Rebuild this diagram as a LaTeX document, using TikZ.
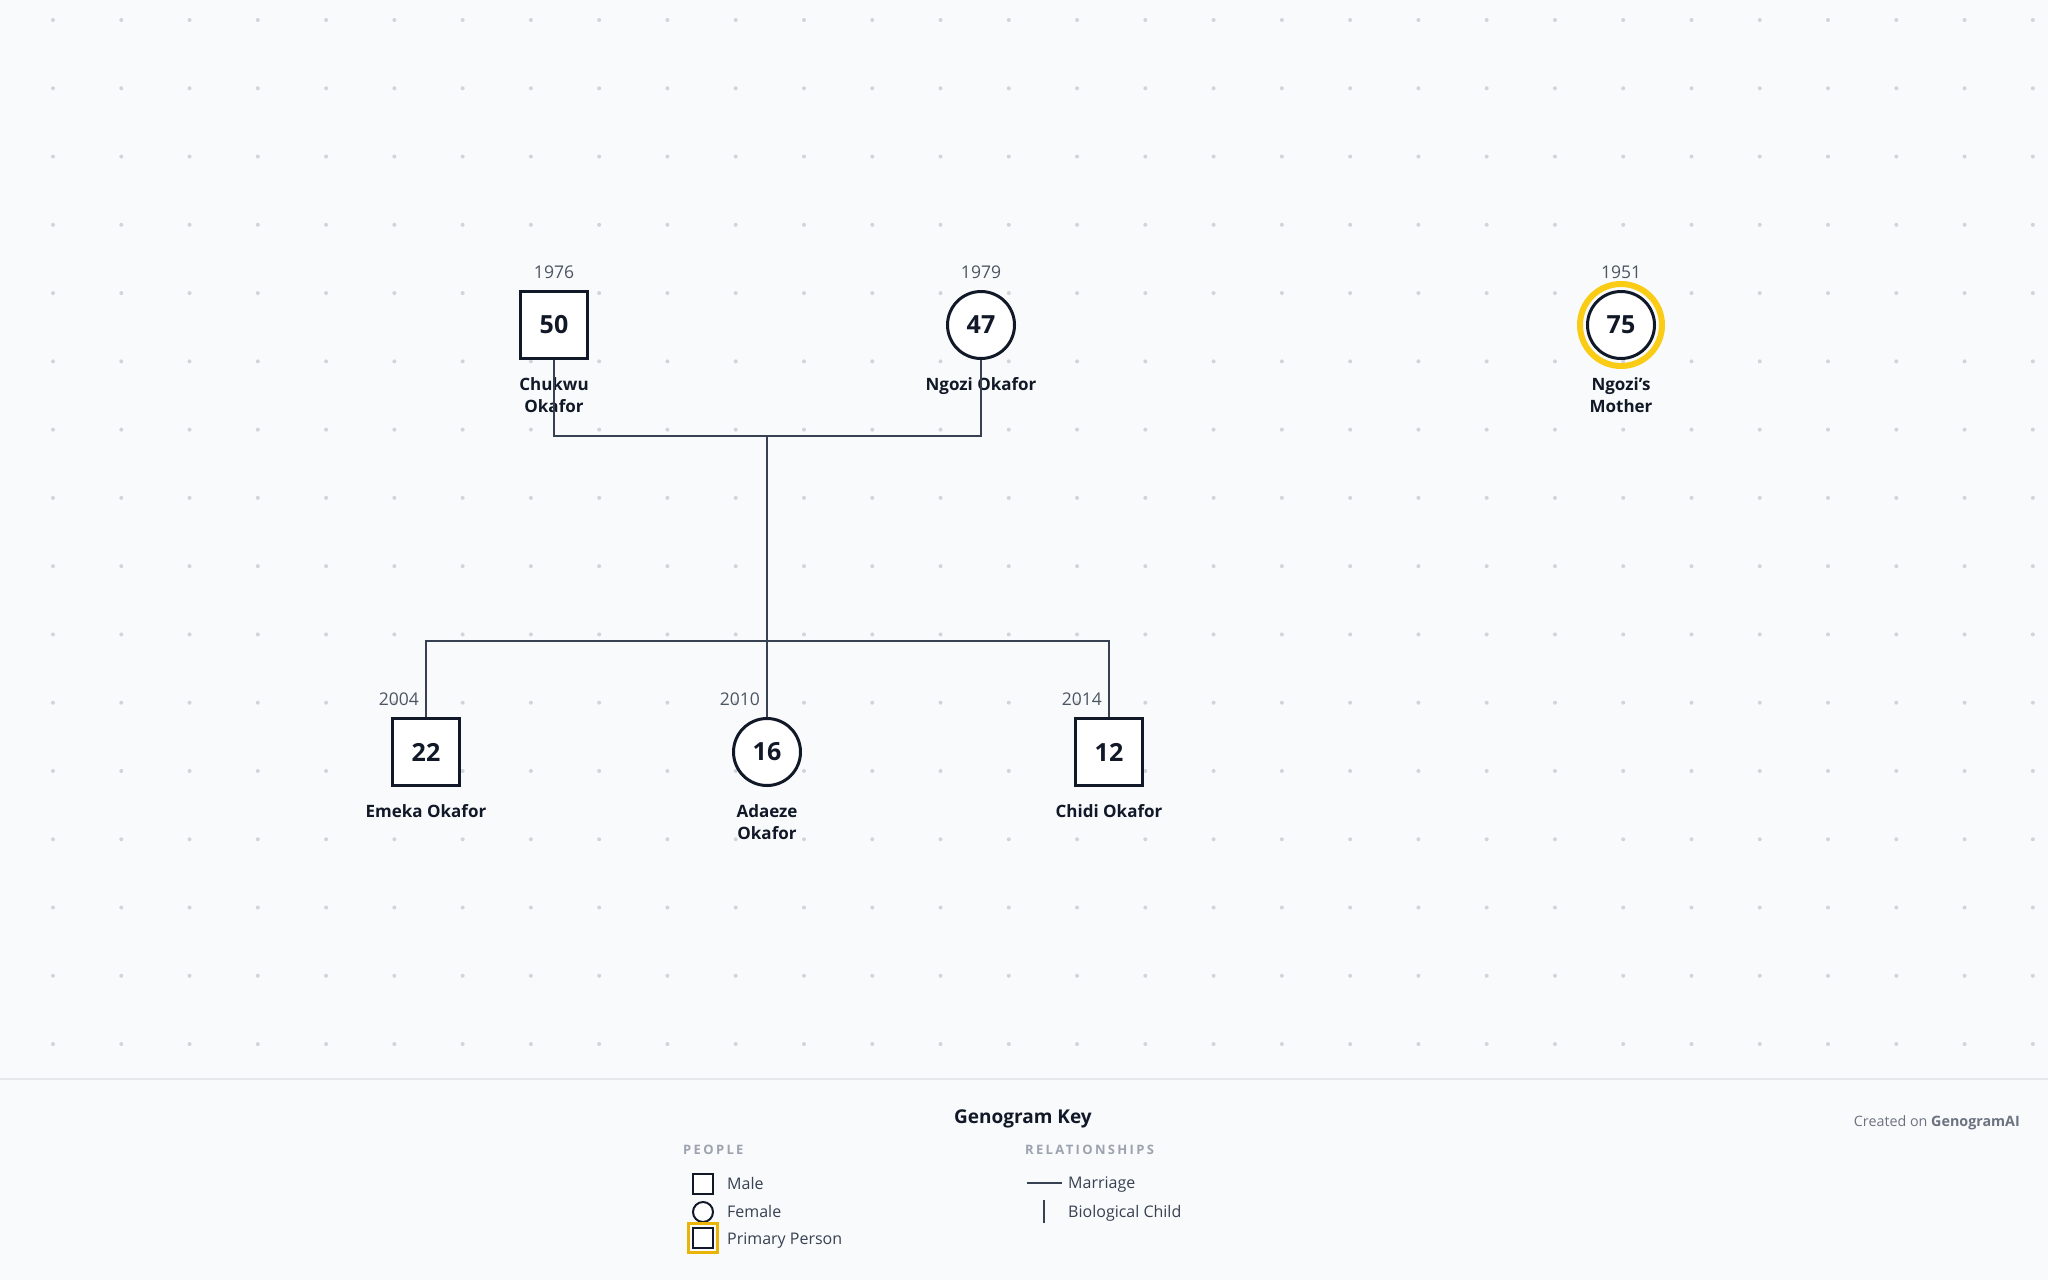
\documentclass[tikz,border=0pt]{standalone}
\usepackage{fontspec}
\setmainfont{Open Sans}
\usetikzlibrary{positioning}

\definecolor{paper}{HTML}{F9FAFB}
\definecolor{ink}{HTML}{111827}
\definecolor{linec}{HTML}{374151}
\definecolor{yearc}{HTML}{4B5563}
\definecolor{dotc}{HTML}{D1D5DB}
\definecolor{rule}{HTML}{E5E7EB}
\definecolor{gold}{HTML}{FACC15}
\definecolor{keygold}{HTML}{EAB308}
\definecolor{capc}{HTML}{9CA3AF}
\definecolor{keytext}{HTML}{374151}
\definecolor{credc}{HTML}{6B7280}

\tikzset{
  male/.style={draw=ink, line width=3pt, fill=white, minimum size=67pt, inner sep=0pt,
    font=\fontsize{25}{30}\selectfont\bfseries, text=ink},
  female/.style={male, circle},
  yr/.style={anchor=base, inner sep=0pt, text=yearc, font=\fontsize{17.5}{21}\selectfont},
  nm/.style={anchor=base, inner sep=0pt, align=center, text=ink,
    font=\fontsize{17}{22}\selectfont\bfseries},
  link/.style={draw=linec, line width=2.5pt},
  keysym/.style={draw=ink, line width=2pt, fill=white, minimum size=20pt, inner sep=0pt},
  keylbl/.style={anchor=base west, inner sep=0pt, text=keytext, font=\fontsize{16}{19}\selectfont},
  keyhead/.style={anchor=base west, inner sep=0pt, text=capc,
    font=\fontsize{13}{15}\selectfont\bfseries\addfontfeatures{LetterSpace=18}}
}

\begin{document}
\begin{tikzpicture}[x=1pt,y=-1pt]
\useasboundingbox (0,0) rectangle (2048,1280);
\fill[paper] (0,0) rectangle (2048,1280);

% dot grid
\foreach \i in {0,...,29}
  \foreach \j in {0,...,15}
    \fill[dotc] (53+68.27*\i,20+68.27*\j) circle [radius=2];

% people
\node[male] (chukwu) at (554,325) {50};
\node[female] (ngozi) at (981,325) {47};
\node[female] (mother) at (1621,325) {75};
\draw[gold, line width=6pt] (mother.center) circle [radius=41];

\node[male] (emeka) at (426,752) {22};
\node[female] (adaeze) at (767,752) {16};
\node[male] (chidi) at (1109,752) {12};

\node[yr] (chukwu-yr) at (554,278) {1976};
\node[yr] (ngozi-yr) at (981,278) {1979};
\node[yr] (mother-yr) at (1621,278) {1951};
\node[yr, anchor=base east] (emeka-yr) at (419,705) {2004};
\node[yr, anchor=base east] (adaeze-yr) at (760,705) {2010};
\node[yr, anchor=base east] (chidi-yr) at (1102,705) {2014};

% two-line names sit on their last line
\node[nm] (chukwu-nm) at (554,412) {Chukwu\\Okafor};
\node[nm] (ngozi-nm) at (981,390) {Ngozi Okafor};
\node[nm] (mother-nm) at (1621,412) {Ngozi's\\Mother};
\node[nm] (emeka-nm) at (426,817) {Emeka Okafor};
\node[nm] (adaeze-nm) at (767,839) {Adaeze\\Okafor};
\node[nm] (chidi-nm) at (1109,817) {Chidi Okafor};

% relationships
\coordinate (marr) at (767,436);
\coordinate (sibs) at (767,641);
\draw[link] (chukwu.south) |- (marr) -| (ngozi.south);
\draw[link] (marr) -- (sibs);
\draw[link] (emeka.north) |- (sibs) -| (chidi.north);
\draw[link] (sibs) -- (adaeze.north);

% key
\draw[rule, line width=2pt] (0,1079) -- (2048,1079);
\node[inner sep=0pt, text=ink, font=\fontsize{19}{23}\selectfont\bfseries] (key-title) at (1023,1119) {Genogram Key};
\node[keyhead] (key-people) at (683,1154.5) {PEOPLE};
\node[keyhead] (key-rel) at (1025,1154.5) {RELATIONSHIPS};

\node[keysym] (key-m) at (703,1184) {};
\node[keysym, circle] (key-f) at (703,1212) {};
\node[keysym] (key-p) at (703,1238) {};
\draw[keygold, line width=3.5pt] ([shift={(-3.5,-3.5)}]key-p.north west) rectangle ([shift={(3.5,3.5)}]key-p.south east);
\node[keylbl] (key-m-lbl) at (727,1189.5) {Male};
\node[keylbl] (key-f-lbl) at (727,1217.5) {Female};
\node[keylbl] (key-p-lbl) at (727,1244.5) {Primary Person};

\coordinate (key-mar-a) at (1027,1183);
\coordinate (key-mar-b) at (1062,1183);
\coordinate (key-bio-a) at (1044,1200);
\coordinate (key-bio-b) at (1044,1223);
\draw[link, line width=2pt] (key-mar-a) -- (key-mar-b);
\draw[link, line width=2pt] (key-bio-a) -- (key-bio-b);
\node[keylbl] (key-mar-lbl) at (1068,1188.5) {Marriage};
\node[keylbl] (key-bio-lbl) at (1068,1217.5) {Biological Child};

\node[anchor=base east, inner sep=0pt, text=credc, font=\fontsize{14.3}{17}\selectfont] (credit) at (2020,1126) {Created on \textbf{GenogramAI}};
\end{tikzpicture}
\end{document}
